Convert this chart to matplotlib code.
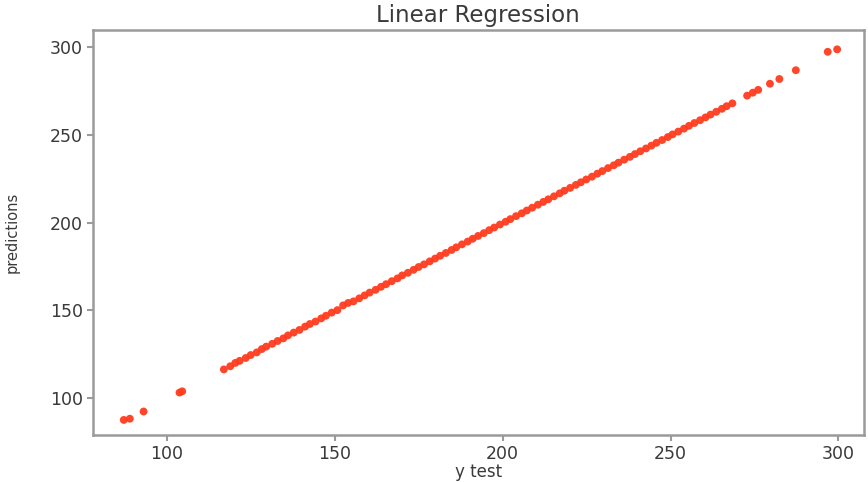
import matplotlib
matplotlib.use("Agg")
import matplotlib.pyplot as plt

# Observed target values and the model's predictions for the test split
y_test = [87.2, 89.0, 93.1, 103.8, 104.6,
          117.0, 118.9, 120.4, 121.7, 123.5, 125.0, 126.8, 128.3, 129.6, 131.4,
          133.0, 134.7, 136.1, 137.8, 139.5, 141.2, 142.6, 144.3, 146.0, 147.4,
          149.1, 150.8, 152.5, 154.0, 155.6, 157.3, 158.9, 160.4, 162.2, 163.8,
          165.3, 167.0, 168.7, 170.1, 171.8, 173.5, 175.0, 176.6, 178.3, 179.9,
          181.4, 183.1, 184.8, 186.2, 187.9, 189.6, 191.1, 192.7, 194.4, 196.0,
          197.5, 199.2, 200.9, 202.3, 204.0, 205.7, 207.2, 208.8, 210.5, 212.1,
          213.6, 215.3, 217.0, 218.4, 220.1, 221.8, 223.3, 224.9, 226.6, 228.2,
          229.7, 231.4, 233.1, 234.5, 236.2, 237.9, 239.4, 241.0, 242.7, 244.3,
          245.8, 247.5, 249.2, 250.6, 252.3, 254.0, 255.5, 257.1, 258.8, 260.4,
          261.9, 263.6, 265.3, 266.7, 268.4, 272.8, 274.5, 276.1, 279.6, 282.4,
          287.3, 296.8, 299.6]

predictions = [87.6, 88.3, 92.4, 103.2, 103.9,
               116.4, 118.2, 120.1, 121.3, 122.9, 124.6, 126.1, 128.0, 129.4, 131.0,
               132.6, 134.1, 135.8, 137.4, 138.9, 140.8, 142.3, 143.7, 145.5, 147.0,
               148.8, 150.2, 152.9, 154.3, 155.2, 156.9, 158.6, 160.2, 161.8, 163.5,
               165.0, 166.7, 168.3, 170.0, 171.5, 173.2, 174.8, 176.3, 178.0, 179.6,
               181.2, 182.8, 184.5, 186.0, 187.7, 189.3, 190.9, 192.5, 194.1, 195.8,
               197.3, 199.0, 200.6, 202.1, 203.8, 205.4, 207.0, 208.6, 210.3, 211.9,
               213.4, 215.1, 216.8, 218.3, 219.9, 221.6, 223.1, 224.7, 226.3, 228.0,
               229.5, 231.2, 232.8, 234.3, 236.0, 237.6, 239.2, 240.8, 242.4, 244.0,
               245.6, 247.2, 248.9, 250.4, 252.0, 253.7, 255.3, 256.9, 258.5, 260.1,
               261.7, 263.3, 265.0, 266.5, 268.1, 272.5, 274.2, 275.8, 279.3, 282.0,
               287.0, 297.5, 298.9]

x_ticks = [100, 150, 200, 250, 300]
y_ticks = [100, 150, 200, 250, 300]

fig = plt.figure(figsize=(8.68, 4.82), dpi=100)
ax = fig.add_axes([0.107, 0.0975, 0.888, 0.8405])

ax.scatter(y_test, predictions, s=32, color="#ff3c1e", edgecolors="none", alpha=0.95)

ax.set_xlim(78, 307.5)
ax.set_ylim(79, 310)
ax.set_xticks(x_ticks)
ax.set_yticks(y_ticks)

text_color = "#3a3a3a"
ax.set_title("Linear Regression", fontsize=16.5, color=text_color, pad=6)
ax.set_xlabel("y test", fontsize=12, color=text_color, labelpad=0)
ax.set_ylabel("predictions", fontsize=10.5, color=text_color, labelpad=22)

for spine in ax.spines.values():
    spine.set_color("#9a9a9a")
    spine.set_linewidth(1.8)
ax.tick_params(axis="both", labelsize=12.5, colors="#9a9a9a", labelcolor=text_color,
               length=4, width=1.5, pad=3)

fig.savefig("out.png", dpi=100)
